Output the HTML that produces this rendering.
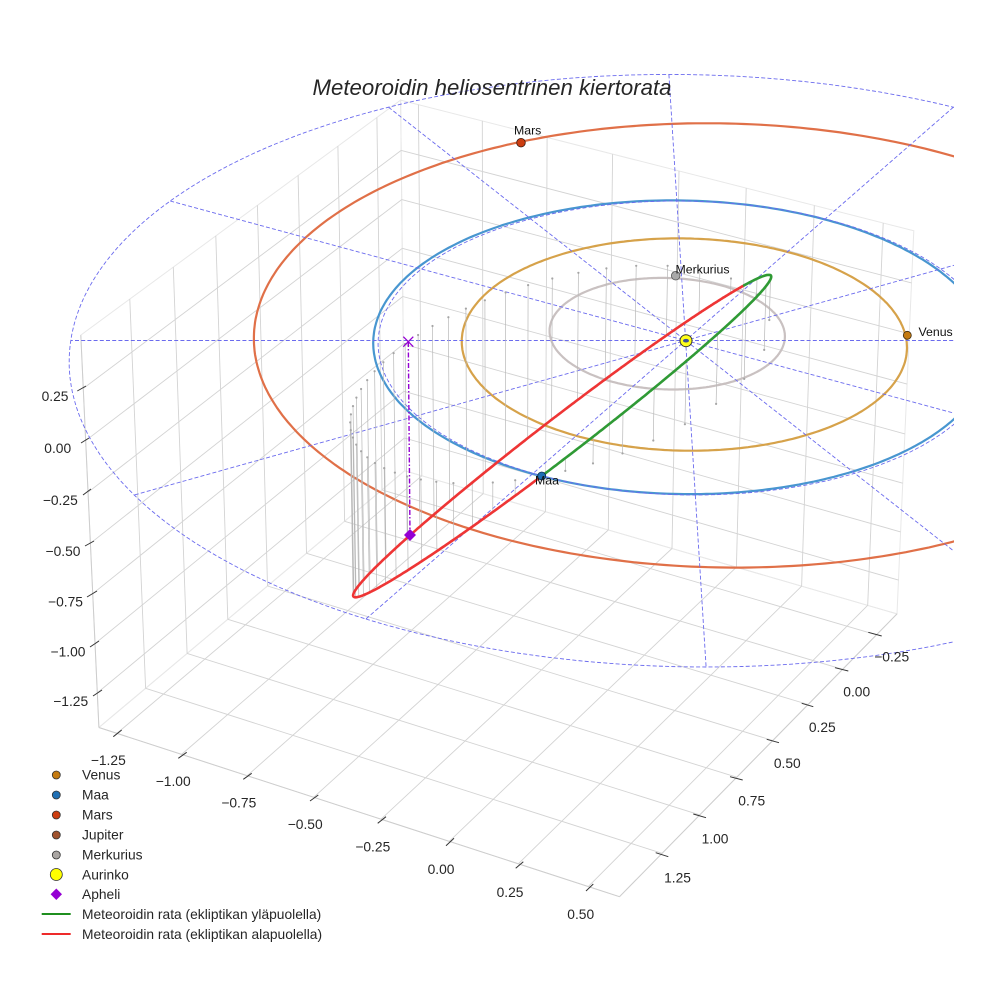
<!DOCTYPE html>
<html><head><meta charset="utf-8"><title>Meteoroidin heliosentrinen kiertorata</title>
<style>
html,body{margin:0;padding:0;background:#fff;width:984px;height:984px;overflow:hidden}
svg{display:block}
text{font-family:"Liberation Sans",Arial,sans-serif}
</style>
</head><body>
<svg id="root" xmlns="http://www.w3.org/2000/svg" width="984" height="984" viewBox="0 0 984 984">
<defs><clipPath id="cp"><rect x="56" y="31" width="898" height="898"/></clipPath></defs>
<rect x="0" y="0" width="984" height="984" fill="#ffffff"/>
<g id="gpane" fill="none" stroke="#e8e8e8" stroke-width="1"></g>
<g id="ggrid" fill="none" stroke="#d3d3d3" stroke-width="0.9"></g>
<g id="gaxis" fill="none" stroke="#cdcdcd" stroke-width="1"></g>
<g clip-path="url(#cp)">
  <g id="gorb" fill="none" stroke-width="2.2"></g>
  <g id="gdash" fill="none" stroke="#6b6bee" stroke-width="0.9" stroke-dasharray="4 2.2"></g>
  <g id="gstem" fill="none" stroke="#b8b8b8" stroke-width="0.7"></g>
  <g id="gdot" fill="#a5a5a5" stroke="none"></g>
  <g id="gmet" fill="none" stroke-width="2.6" stroke-linejoin="round" stroke-linecap="round"></g>
</g>

<!-- tick marks -->
<g stroke="#333333" stroke-width="1">
  <line x1="113.3" y1="736.7" x2="121.7" y2="730"/>
  <line x1="178.3" y1="758.3" x2="186.7" y2="752.3"/>
  <line x1="243.3" y1="779.3" x2="251.7" y2="773.3"/>
  <line x1="310" y1="801" x2="318.3" y2="795"/>
  <line x1="377.7" y1="823.3" x2="386" y2="816.7"/>
  <line x1="446" y1="845.7" x2="454" y2="838.3"/>
  <line x1="515.7" y1="868.3" x2="523.3" y2="861.7"/>
  <line x1="586" y1="891" x2="593.3" y2="884"/>
  <line x1="868.3" y1="632.3" x2="881.7" y2="636"/>
  <line x1="835" y1="667.7" x2="848.3" y2="671"/>
  <line x1="801.7" y1="703.3" x2="813.3" y2="706.7"/>
  <line x1="766.7" y1="739.3" x2="779" y2="742.7"/>
  <line x1="730" y1="776.7" x2="742.7" y2="780"/>
  <line x1="693.3" y1="814" x2="706" y2="817.7"/>
  <line x1="655.7" y1="852.7" x2="668.3" y2="856.7"/>
  <line x1="77.3" y1="391" x2="86" y2="386"/>
  <line x1="81" y1="443" x2="89" y2="438"/>
  <line x1="83" y1="495" x2="91" y2="489"/>
  <line x1="85" y1="546" x2="94" y2="541"/>
  <line x1="87" y1="597" x2="97" y2="591"/>
  <line x1="90" y1="647" x2="99" y2="641"/>
  <line x1="93" y1="696" x2="102" y2="690"/>
</g>

<!-- tick labels -->
<g font-size="13.8" fill="#262626" text-anchor="middle">
  <text x="55" y="401">0.25</text>
  <text x="57.7" y="453">0.00</text>
  <text x="60.3" y="505">−0.25</text>
  <text x="63" y="556">−0.50</text>
  <text x="65.5" y="606.5">−0.75</text>
  <text x="68" y="656.5">−1.00</text>
  <text x="70.7" y="706">−1.25</text>

  <text x="108.3" y="765">−1.25</text>
  <text x="173.2" y="786">−1.00</text>
  <text x="238.8" y="807.5">−0.75</text>
  <text x="305.2" y="829">−0.50</text>
  <text x="372.8" y="851.5">−0.25</text>
  <text x="441" y="874">0.00</text>
  <text x="510" y="897">0.25</text>
  <text x="580.7" y="919">0.50</text>

  <text x="891.7" y="661.5">−0.25</text>
  <text x="856.7" y="696.5">0.00</text>
  <text x="822.3" y="732">0.25</text>
  <text x="787.3" y="768">0.50</text>
  <text x="751.7" y="805.5">0.75</text>
  <text x="715" y="843.5">1.00</text>
  <text x="677.5" y="882.5">1.25</text>
</g>

<!-- aphelion markers -->
<line x1="408.3" y1="342" x2="410" y2="535" stroke="#9400d3" stroke-width="1.4" stroke-dasharray="5 2 1.5 2"/>
<g stroke="#9400d3" stroke-width="1.3">
  <line x1="403.3" y1="336.7" x2="413.3" y2="346.7"/>
  <line x1="403.3" y1="346.7" x2="413.3" y2="336.7"/>
</g>
<polygon points="410,529 416,535 410,541 404,535" fill="#9400d3"/>

<!-- planets -->
<circle cx="907.3" cy="335.3" r="4" fill="#c47a10" stroke="#3a2a10" stroke-width="0.8"/>
<circle cx="521" cy="142.7" r="4.3" fill="#cc3d10" stroke="#3a1a10" stroke-width="0.8"/>
<circle cx="675.7" cy="275.7" r="4.3" fill="#a8a8a8" stroke="#555555" stroke-width="0.8"/>
<circle cx="541.7" cy="476" r="4" fill="#1f6fb4" stroke="#0d2d50" stroke-width="0.8"/>
<circle cx="686" cy="340.7" r="6" fill="#ffff1a" stroke="#333333" stroke-width="1"/>
<ellipse cx="686" cy="340.7" rx="3" ry="1.8" fill="#3a4f9a"/>

<g font-size="12.3" fill="#111111">
  <text x="514" y="134.5">Mars</text>
  <text x="675.5" y="273.5">Merkurius</text>
  <text x="918.5" y="336">Venus</text>
  <text x="535" y="484.5">Maa</text>
</g>

<!-- title -->
<text x="492" y="95" font-size="22.2" font-style="italic" fill="#262626" text-anchor="middle">Meteoroidin heliosentrinen kiertorata</text>

<!-- legend -->
<g stroke="#333333" stroke-width="0.8">
  <circle cx="56.3" cy="775" r="4" fill="#c47a10"/>
  <circle cx="56.3" cy="795" r="4" fill="#1f6fb4"/>
  <circle cx="56.3" cy="815" r="4" fill="#cc3d10"/>
  <circle cx="56.3" cy="835" r="4" fill="#a0522d"/>
  <circle cx="56.3" cy="855" r="4" fill="#a9a5a2"/>
  <circle cx="56.3" cy="874.5" r="6" fill="#ffff00"/>
</g>
<polygon points="56.3,888.5 62,894.3 56.3,900 50.6,894.3" fill="#9400d3"/>
<line x1="41.7" y1="914" x2="70.7" y2="914" stroke="#1f8f1f" stroke-width="2"/>
<line x1="41.7" y1="934" x2="70.7" y2="934" stroke="#ee2a2a" stroke-width="2"/>
<g font-size="13.8" fill="#262626">
  <text x="82" y="779.7">Venus</text>
  <text x="82" y="799.7">Maa</text>
  <text x="82" y="819.7">Mars</text>
  <text x="82" y="839.7">Jupiter</text>
  <text x="82" y="859.5">Merkurius</text>
  <text x="82" y="879.3">Aurinko</text>
  <text x="82" y="899">Apheli</text>
  <text x="82" y="919">Meteoroidin rata (ekliptikan yläpuolella)</text>
  <text x="82" y="939">Meteoroidin rata (ekliptikan alapuolella)</text>
</g>
</svg>

<script>
(function(){
var NS='http://www.w3.org/2000/svg';
var S=5220,CX=505,CY=480;
var XL=[-1.32,0.61],YL=[-0.405,1.525],ZL=[-1.427,0.503];
var BX=8/7,BY=8/7,BZ=6/7;
var el=30*Math.PI/180, az=-60*Math.PI/180;
var ce=Math.cos(el),se=Math.sin(el),ca=Math.cos(az),sa=Math.sin(az);
var R=[BX/2,BY/2,BZ/2];
var W=[ce*ca,ce*sa,se];
var E=[R[0]+10*W[0],R[1]+10*W[1],R[2]+10*W[2]];
var U=[-sa,ca,0];
var V=[-se*ca,-se*sa,ce];
function dot(a,b){return a[0]*b[0]+a[1]*b[1]+a[2]*b[2];}
function nrm(a){return Math.sqrt(dot(a,a));}
function wld(p){return [(p[0]-XL[0])/(XL[1]-XL[0])*BX,(YL[1]-p[1])/(YL[1]-YL[0])*BY,(p[2]-ZL[0])/(ZL[1]-ZL[0])*BZ];}
function P(p){var q=wld(p);var D=[q[0]-E[0],q[1]-E[1],q[2]-E[2]];var d=-dot(W,D);return [CX+S*dot(U,D)/d, CY-S*dot(V,D)/d];}
function unprojZ(sx,sy,z){
  var px=(sx-CX)/S, py=(CY-sy)/S;
  var a=[U[0]+px*W[0],U[1]+px*W[1],U[2]+px*W[2]];
  var b=[V[0]+py*W[0],V[1]+py*W[1],V[2]+py*W[2]];
  var wz=(z-ZL[0])/(ZL[1]-ZL[0])*BZ;
  var ra=a[0]*E[0]+a[1]*E[1]-a[2]*(wz-E[2]);
  var rb=b[0]*E[0]+b[1]*E[1]-b[2]*(wz-E[2]);
  var det=a[0]*b[1]-a[1]*b[0];
  var wx=(ra*b[1]-a[1]*rb)/det, wy=(a[0]*rb-ra*b[0])/det;
  return [XL[0]+wx/BX*(XL[1]-XL[0]), YL[1]-wy/BY*(YL[1]-YL[0]), z];
}
function solveZ(x,y,sy){
  var py=(CY-sy)/S;
  var b=[V[0]+py*W[0],V[1]+py*W[1],V[2]+py*W[2]];
  var q=wld([x,y,0]);
  var wz=E[2]-(b[0]*(q[0]-E[0])+b[1]*(q[1]-E[1]))/b[2];
  return ZL[0]+wz/BZ*(ZL[1]-ZL[0]);
}
function f(n){return n.toFixed(1);}
function pathOf(pts){var s='';for(var i=0;i<pts.length;i++){var q=P(pts[i]);s+=(i?'L':'M')+f(q[0])+' '+f(q[1]);}return s;}
function add(parent,tag,attrs){var e=document.createElementNS(NS,tag);for(var k in attrs)e.setAttribute(k,attrs[k]);parent.appendChild(e);return e;}
function G(id){return document.getElementById(id);}

var xlo=XL[0],xhi=XL[1],ylo=YL[0],yhi=YL[1],zlo=ZL[0],zhi=ZL[1];
var xt=[-1.25,-1,-0.75,-0.5,-0.25,0,0.25,0.5];
var yt=[-0.25,0,0.25,0.5,0.75,1,1.25];
var zt=[-1.25,-1,-0.75,-0.5,-0.25,0,0.25];

// panes
var gp=G('gpane');
add(gp,'path',{d:pathOf([[xlo,yhi,zlo],[xhi,yhi,zlo],[xhi,ylo,zlo],[xlo,ylo,zlo],[xlo,yhi,zlo]])});
add(gp,'path',{d:pathOf([[xlo,yhi,zlo],[xlo,ylo,zlo],[xlo,ylo,zhi],[xlo,yhi,zhi],[xlo,yhi,zlo]])});
add(gp,'path',{d:pathOf([[xlo,ylo,zlo],[xhi,ylo,zlo],[xhi,ylo,zhi],[xlo,ylo,zhi],[xlo,ylo,zlo]])});

// grid
var gg=G('ggrid'), d='';
xt.forEach(function(x){d+=pathOf([[x,ylo,zlo],[x,yhi,zlo]]);d+=pathOf([[x,ylo,zlo],[x,ylo,zhi]]);});
yt.forEach(function(y){d+=pathOf([[xlo,y,zlo],[xhi,y,zlo]]);d+=pathOf([[xlo,y,zlo],[xlo,y,zhi]]);});
zt.forEach(function(z){d+=pathOf([[xlo,ylo,z],[xlo,yhi,z]]);d+=pathOf([[xlo,ylo,z],[xhi,ylo,z]]);});
add(gg,'path',{d:d});

// axis lines
var ga=G('gaxis');
add(ga,'path',{d:pathOf([[xlo,yhi,zlo],[xhi,yhi,zlo]])+pathOf([[xhi,yhi,zlo],[xhi,ylo,zlo]])+pathOf([[xlo,yhi,zlo],[xlo,yhi,zhi]])});

// planet orbits
function orbit(a,e,w){var pts=[];for(var i=0;i<=360;i++){var L=i*Math.PI/180;var r=a*(1-e*e)/(1+e*Math.cos(L-w*Math.PI/180));pts.push([r*Math.sin(L),r*Math.cos(L),0]);}return pts;}
var go=G('gorb');
add(go,'path',{d:pathOf(orbit(1.5237,0.0934,336.04)),stroke:'#e07048'});
add(go,'path',{d:pathOf(orbit(1.0,0.0167,102.94)),stroke:'#4896d0'});
add(go,'path',{d:pathOf(orbit(0.7233,0.0068,131.53)),stroke:'#d6a24a'});
add(go,'path',{d:pathOf(orbit(0.3871,0.2056,77.46)),stroke:'#c9c1c1'});

// dashed reference circles & radial lines
var gd=G('gdash');
function circ(r){var pts=[];for(var i=0;i<=360;i++){var L=i*Math.PI/180;pts.push([r*Math.sin(L),r*Math.cos(L),0]);}return pts;}
add(gd,'path',{d:pathOf(circ(2))});
add(gd,'path',{d:pathOf(circ(1))});
var rd='';
for(var k=0;k<6;k++){var t=k*Math.PI/6;var c=Math.cos(t),s=Math.sin(t);rd+=pathOf([[-2*c,-2*s,0],[2*c,2*s,0]]);}
add(gd,'path',{d:rd});

// meteoroid orbit
var N1=unprojZ(541.7,476,0), N2=unprojZ(745,285.5,0), XP=unprojZ(408.3,341.7,0);
var zA=solveZ(XP[0],XP[1],535);
var Q=[XP[0],XP[1],zA];
var r1=nrm(N1), r2=nrm(N2), rQ=nrm(Q);
var nh=[N1[0]/r1,N1[1]/r1,0];
var qn=dot(Q,nh);
var mv=[Q[0]-qn*nh[0],Q[1]-qn*nh[1],Q[2]-qn*nh[2]];
var qm=nrm(mv); var mh=[mv[0]/qm,mv[1]/qm,mv[2]/qm];
var phQ=Math.atan2(qm,qn);
var A=(1/r1+1/r2)/2, B=(1/r1-1/r2)/2;
var C=(1/rQ-A-B*Math.cos(phQ))/Math.sin(phQ);
var p=1/A, ecc=p*Math.sqrt(B*B+C*C), php=Math.atan2(C,B), sma=p/(1-ecc*ecc);
function opos(phi){var r=p/(1+ecc*Math.cos(phi-php));var c=Math.cos(phi)*r,s=Math.sin(phi)*r;return [c*nh[0]+s*mh[0],c*nh[1]+s*mh[1],c*nh[2]+s*mh[2]];}

// stems
var gs=G('gstem'), gdt=G('gdot'), sd='';
var Nst=50;
for(var k2=0;k2<Nst;k2++){
  var M=2*Math.PI*k2/Nst, Ea=M;
  for(var it=0;it<40;it++){Ea=Ea-(Ea-ecc*Math.sin(Ea)-M)/(1-ecc*Math.cos(Ea));}
  var nu=2*Math.atan2(Math.sqrt(1+ecc)*Math.sin(Ea/2),Math.sqrt(1-ecc)*Math.cos(Ea/2));
  var pos=opos(php+nu);
  var a1=P(pos), a2=P([pos[0],pos[1],0]);
  sd+='M'+f(a1[0])+' '+f(a1[1])+'L'+f(a2[0])+' '+f(a2[1]);
  add(gdt,'circle',{cx:f(a2[0]),cy:f(a2[1]),r:'1.1'});
}
add(gs,'path',{d:sd});

// orbit line split by ecliptic side
var gm=G('gmet');
var prev=null, cur=[], curSign=0, segs=[];
for(var i=0;i<=720;i++){
  var q=opos(php+i*Math.PI/360);
  var sg=q[2]>=0?1:-1;
  if(prev===null){curSign=sg;}
  else if(sg!==curSign){
    var tt=prev[2]/(prev[2]-q[2]);
    var z0=[prev[0]+tt*(q[0]-prev[0]),prev[1]+tt*(q[1]-prev[1]),0];
    cur.push(z0); segs.push([curSign,cur]); cur=[z0]; curSign=sg;
  }
  cur.push(q); prev=q;
}
segs.push([curSign,cur]);
segs.forEach(function(sgm){
  add(gm,'path',{d:pathOf(sgm[1]),stroke:(sgm[0]>0?'#2f9a35':'#ee3535')});
});
})();
</script>
</body></html>
